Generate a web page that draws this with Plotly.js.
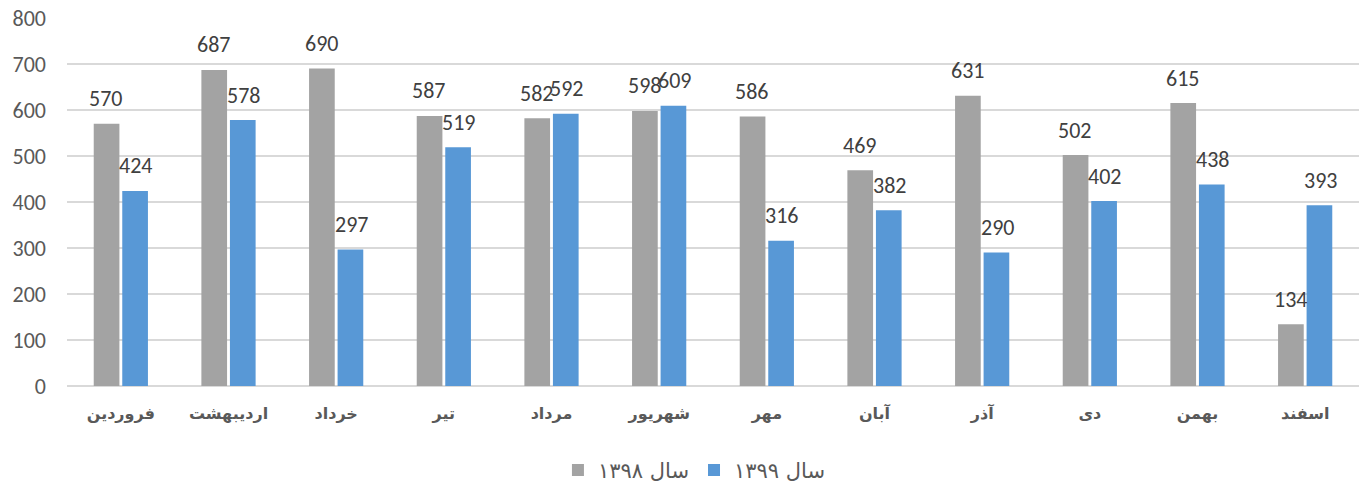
<!DOCTYPE html>
<html>
<head>
<meta charset="utf-8">
<script src="https://cdn.plot.ly/plotly-3.0.1.min.js"></script>
<style>html,body{margin:0;padding:0;background:#fff;}#chart{width:1359px;height:493px;}</style>
</head>
<body>
<div id="chart"></div>
<script>
const months = ["فروردین","اردیبهشت","خرداد","تیر","مرداد","شهریور","مهر","آبان","آذر","دی","بهمن","اسفند"];
const series1398 = [570, 687, 690, 587, 582, 598, 586, 469, 631, 502, 615, 134];
const series1399 = [424, 578, 297, 519, 592, 609, 316, 382, 290, 402, 438, 393];
const name1398 = "سال ۱۳۹۸";
const name1399 = "سال ۱۳۹۹";
const yTicks = [0,100,200,300,400,500,600,700,800];

const gray = "#a3a3a3";
const blue = "#5898d6";

const traces = [
  {type:"bar", name:name1398, x:months, y:series1398, marker:{color:gray, line:{width:0}}, hoverinfo:"y"},
  {type:"bar", name:name1399, x:months, y:series1399, marker:{color:blue, line:{width:0}}, hoverinfo:"y"}
];

const annotations = [];
function addLabels(vals, shift){
  vals.forEach((v,i)=>{
    annotations.push({x:months[i], y:v, xref:"x", yref:"y", text:String(v), showarrow:false,
      xshift:shift, yshift:25, yanchor:"middle", xanchor:"center",
      font:{family:"Carlito, 'Liberation Sans', 'Noto Sans', sans-serif", size:22, color:"#404040"}});
  });
}
addLabels(series1398, -15);
addLabels(series1399, 15);

const layout = {
  width:1359, height:493,
  margin:{l:67, r:0, t:18, b:107, autoexpand:false},
  paper_bgcolor:"#fff", plot_bgcolor:"#fff",
  barmode:"group", bargap:0.47, bargroupgap:0.1,
  showlegend:true,
  legend:{orientation:"h", x:0.511, xanchor:"center", xref:"container", y:0.046, yanchor:"middle", yref:"container",
    font:{family:"'DejaVu Sans', sans-serif", size:21, color:"#595959"}, itemwidth:30, traceorder:"normal"},
  xaxis:{type:"category", showgrid:false, showline:false, zeroline:false, ticks:"",
    tickfont:{family:"'DejaVu Sans', sans-serif", size:16, color:"#595959", weight:"bold"},
    ticklabelstandoff:16, fixedrange:true},
  yaxis:{range:[0,800], tickvals:yTicks, ticktext:yTicks.map(String), showgrid:true, gridcolor:"#d9d9d9", gridwidth:1.3,
    zeroline:true, zerolinecolor:"#d9d9d9", zerolinewidth:1.3, showline:false, ticks:"",
    tickfont:{family:"Carlito, 'Liberation Sans', 'Noto Sans', sans-serif", size:22, color:"#595959"},
    ticklabelstandoff:20, fixedrange:true},
  annotations:annotations,
  font:{family:"'DejaVu Sans', sans-serif"}
};

Plotly.newPlot("chart", traces, layout, {displayModeBar:false, staticPlot:true});
</script>
</body>
</html>
